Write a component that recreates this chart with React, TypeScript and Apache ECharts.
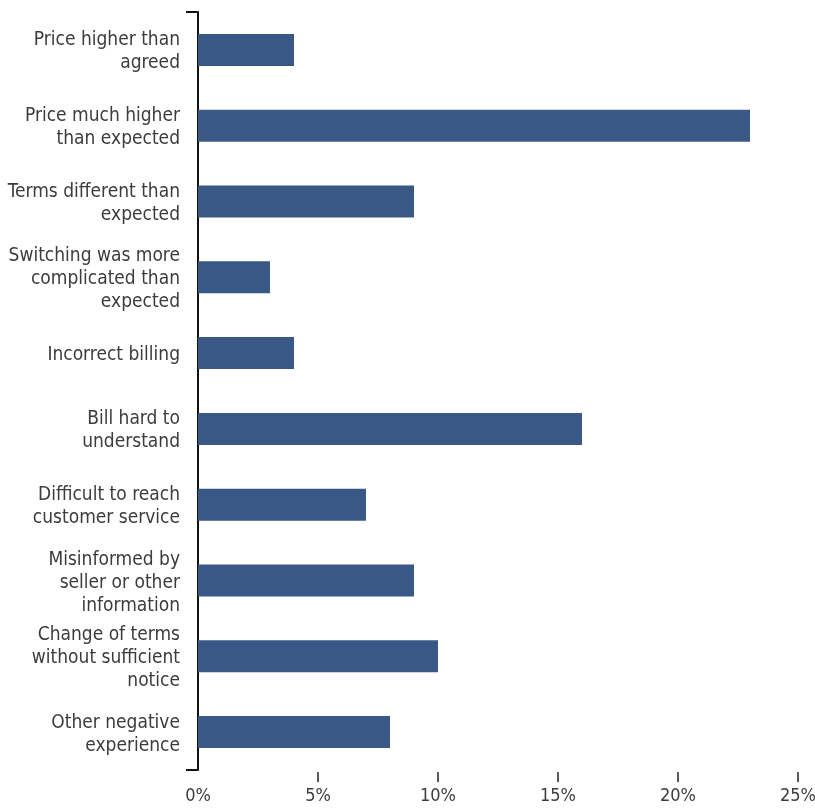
import React, { useEffect, useRef } from "react";
import * as echarts from "echarts";

const categories = [
  "Price higher than\nagreed",
  "Price much higher\nthan expected",
  "Terms different than\nexpected",
  "Switching was more\ncomplicated than\nexpected",
  "Incorrect billing",
  "Bill hard to\nunderstand",
  "Difficult to reach\ncustomer service",
  "Misinformed by\nseller or other\ninformation",
  "Change of terms\nwithout sufficient\nnotice",
  "Other negative\nexperience",
];
const values = [4, 23, 9, 3, 4, 16, 7, 9, 10, 8];
const xTickValues = [5, 10, 15, 20, 25];

const FONT = "'Liberation Sans Narrow', 'DejaVu Sans Condensed', 'Roboto', sans-serif";

export default function App() {
  const ref = useRef<HTMLDivElement>(null);
  useEffect(() => {
    if (!ref.current) return;
    const chart = echarts.init(ref.current, undefined, { renderer: "svg" });
    chart.setOption({
      animation: false,
      textStyle: { fontFamily: FONT },
      grid: {
        left: 198,
        right: 17,
        top: 12,
        bottom: 39,
        containLabel: false,
        outerBoundsMode: "none",
      },
      xAxis: {
        type: "value",
        min: 0,
        max: 25,
        interval: 5,
        offset: 2,
        axisLine: { show: false },
        splitLine: { show: false },
        axisTick: {
          show: true,
          customValues: xTickValues,
          length: 10,
          lineStyle: { color: "#222", width: 1.5 },
        },
        axisLabel: {
          formatter: "{value}%",
          color: "#3c3c3c",
          fontSize: 18,
          fontFamily: FONT,
          margin: 13,
          showMaxLabel: true,
          hideOverlap: false,
        },
      },
      yAxis: {
        type: "category",
        data: categories,
        inverse: true,
        axisLine: { show: true, lineStyle: { color: "#111", width: 2 } },
        axisTick: {
          show: true,
          length: 12,
          interval: (i: number) => i === 0,
          lineStyle: { color: "#111", width: 2 },
        },
        axisLabel: {
          color: "#3c3c3c",
          fontSize: 19,
          lineHeight: 23,
          fontFamily: FONT,
          margin: 18,
          align: "right",
        },
      },
      series: [
        {
          type: "bar",
          data: values,
          barWidth: 32,
          itemStyle: { color: "#395886" },
        },
      ],
    });
    return () => chart.dispose();
  }, []);
  return (
    <div
      ref={ref}
      style={{ position: "fixed", left: 0, top: 0, width: 815, height: 809 }}
    />
  );
}
